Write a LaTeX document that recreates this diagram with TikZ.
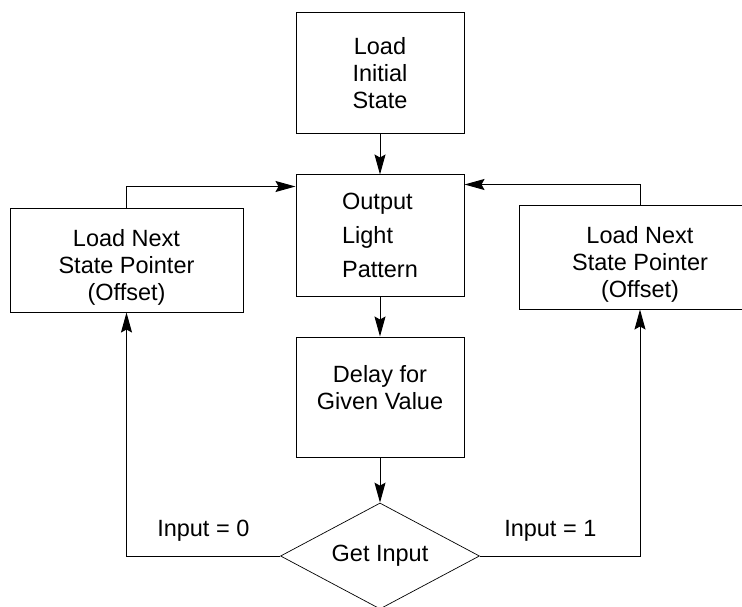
\documentclass[tikz,border=0pt]{standalone}
\usepackage{fontspec}
\setmainfont{Liberation Sans}
\usetikzlibrary{arrows.meta,shapes.geometric}

\tikzset{
  every node/.style={font=\fontsize{23.5}{27}\selectfont, inner sep=2pt},
  stage/.style={draw, line width=1pt, align=center, minimum width=168pt, minimum height=121pt},
  offset box/.style={draw, line width=1pt, align=center, minimum height=104pt},
  decision/.style={draw, diamond, line width=0.7pt, aspect=1.9, inner sep=0pt,
    minimum width=199pt, minimum height=106pt}
}

\begin{document}
\begin{tikzpicture}[x=1pt, y=-1pt, line width=1pt,
    >={Stealth[length=20pt, width=11pt, inset=3pt]}]

  \useasboundingbox (0,0) rectangle (742,607);

  % main column
  \node [stage] (state-init) at (380,73.5) {Load\\Initial\\State};
  \node [stage, align=left] (output) at (380,235.5) {Output\\[7pt]Light\\[7pt]Pattern};
  \node [stage, minimum height=120pt] (delay) at (380,397) {Delay for\\Given Value\\[-7pt]\mbox{}};
  \node [decision] (get-input) at (380,556) {Get Input};

  % side boxes
  \node [offset box, minimum width=233pt] (next-0) at (126.5,260) {\rule{0pt}{32pt}Load Next\\State Pointer\\(Offset)};
  \node [offset box, minimum width=242pt] (next-1) at (640,257) {\rule{0pt}{32pt}Load Next\\State Pointer\\(Offset)};

  \foreach \a/\b in {state-init/output, output/delay, delay/get-input}
    \draw [->] (\a) -- (\b);

  \draw [->] (get-input.west) -| node [pos=0.25, above=12pt] {Input = 0} (next-0.south);
  \draw [->] (get-input.east) -| node [pos=0.22, above=12pt] {Input = 1} (next-1.south);

  \draw [->] (next-0.north) |- ([yshift=-12pt]output.north west);
  \draw [->] (next-1.north) |- ([yshift=-10pt]output.north east);

\end{tikzpicture}
\end{document}
